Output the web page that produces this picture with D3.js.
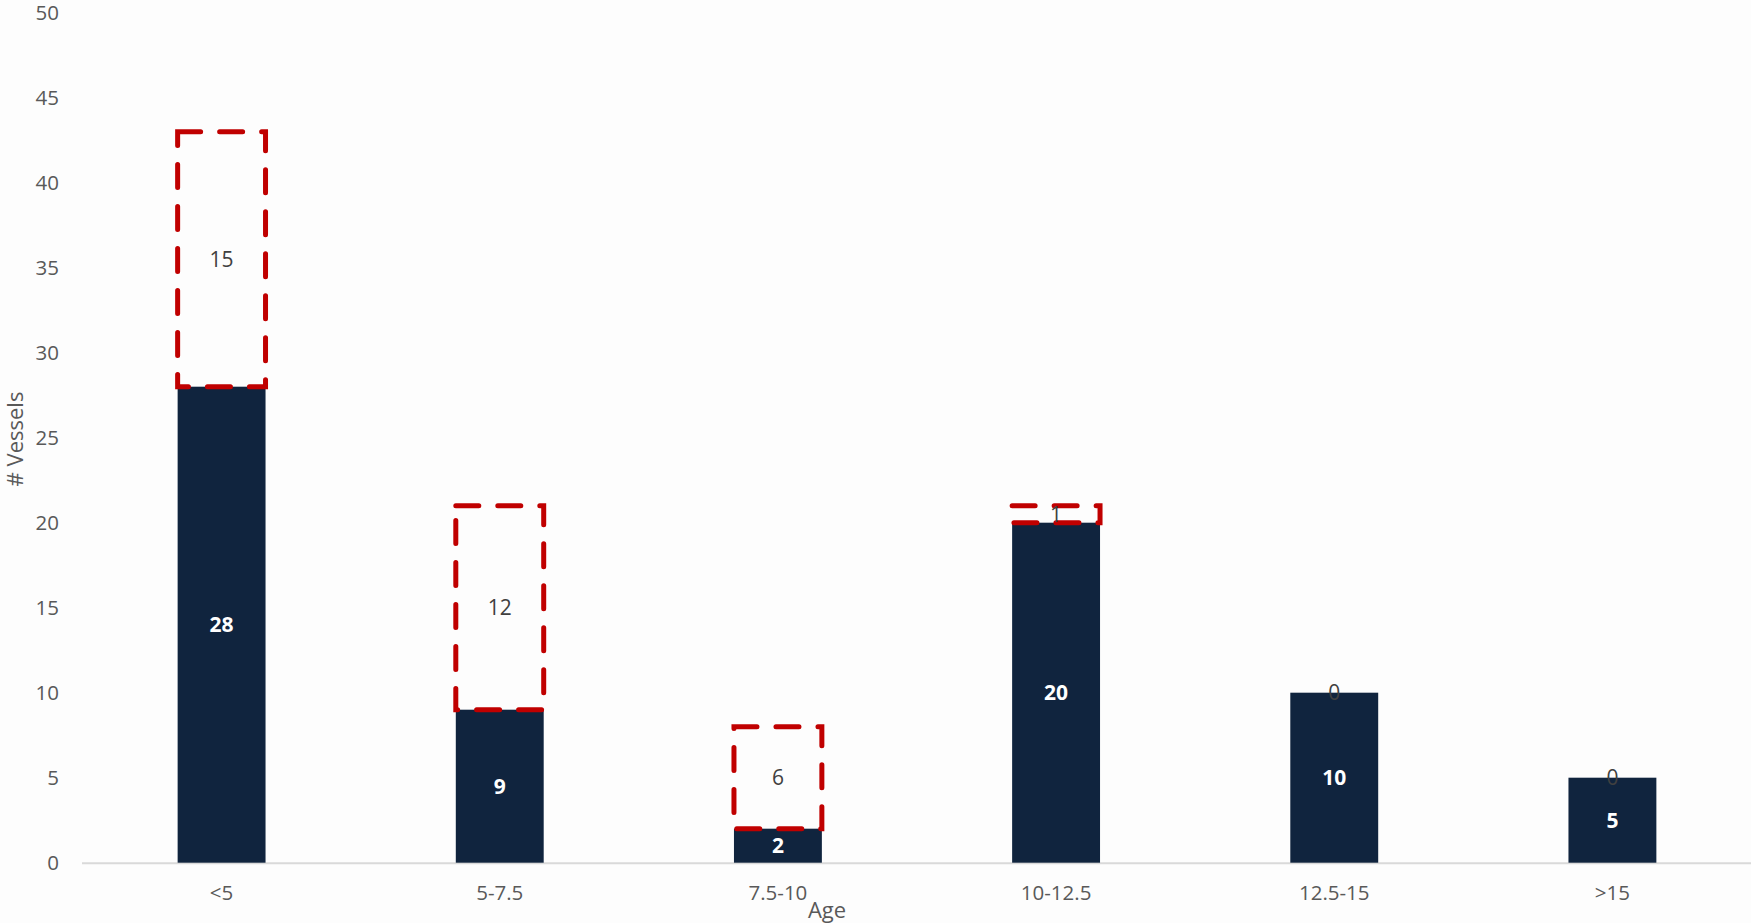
<!DOCTYPE html>
<html><head><meta charset="utf-8">
<script src="https://cdn.jsdelivr.net/npm/d3@7"></script>
<style>
html,body{margin:0;padding:0;background:#fdfdfd;}
svg{display:block;font-family:"Open Sans",sans-serif;}
</style></head>
<body>
<svg id="chart" width="1751" height="923"></svg>
<script>
const categories = ["<5", "5-7.5", "7.5-10", "10-12.5", "12.5-15", ">15"];
const baseValues = [28, 9, 2, 20, 10, 5];
const extraValues = [15, 12, 6, 1, 0, 0];
const yTicks = [0, 5, 10, 15, 20, 25, 30, 35, 40, 45, 50];

const svg = d3.select("#chart");
const x = d3.scaleBand().domain(categories).range([82, 1751]).padding(0);
const y = d3.scaleLinear().domain([0, 50]).range([862.7, 12.7]);
const barW = x.bandwidth() * 0.316;
const cx = c => x(c) + x.bandwidth() / 2 + 0.5;

// y tick labels
svg.append("g").selectAll("text").data(yTicks).join("text")
  .attr("x", 59).attr("y", d => y(d)).attr("dy", "0.35em")
  .attr("text-anchor", "end").attr("font-size", 20.5).attr("fill", "#595959")
  .text(d => d);

// axis line
svg.append("line").attr("x1", 82).attr("x2", 1751)
  .attr("y1", y(0) + 0.5).attr("y2", y(0) + 0.5)
  .attr("stroke", "#d9d9d9").attr("stroke-width", 2);

// bars
svg.append("g").selectAll("rect").data(categories).join("rect")
  .attr("x", c => cx(c) - barW / 2).attr("width", barW)
  .attr("y", (c, i) => y(baseValues[i]))
  .attr("height", (c, i) => y(0) - y(baseValues[i]))
  .attr("fill", "#10243e");

// dashed boxes
svg.append("g").selectAll("rect").data(categories.filter((c, i) => extraValues[i] > 0)).join("rect")
  .attr("x", c => cx(c) - barW / 2).attr("width", barW)
  .attr("y", c => { const i = categories.indexOf(c); return y(baseValues[i] + extraValues[i]); })
  .attr("height", c => { const i = categories.indexOf(c); return y(baseValues[i]) - y(baseValues[i] + extraValues[i]); })
  .attr("fill", "none").attr("stroke", "#c00000").attr("stroke-width", 5)
  .attr("stroke-dasharray", "23,19").attr("stroke-linecap", "round");

// base labels
svg.append("g").selectAll("text").data(categories).join("text")
  .attr("x", c => cx(c)).attr("y", (c, i) => y(baseValues[i] / 2)).attr("dy", "0.35em")
  .attr("text-anchor", "middle").attr("font-size", 21).attr("font-weight", "bold")
  .attr("fill", "#ffffff").text((c, i) => baseValues[i]);

// extra labels
svg.append("g").selectAll("text").data(categories).join("text")
  .attr("x", c => cx(c)).attr("y", (c, i) => y(baseValues[i] + extraValues[i] / 2)).attr("dy", "0.35em")
  .attr("text-anchor", "middle").attr("font-size", 21)
  .attr("fill", "#404040").text((c, i) => extraValues[i]);

// x category labels
svg.append("g").selectAll("text").data(categories).join("text")
  .attr("x", c => cx(c)).attr("y", 893).attr("dy", "0.35em")
  .attr("text-anchor", "middle").attr("font-size", 20.5).attr("fill", "#595959")
  .text(c => c);

// axis titles
svg.append("text").attr("x", 827).attr("y", 910).attr("dy", "0.35em")
  .attr("text-anchor", "middle").attr("font-size", 22).attr("fill", "#595959").text("Age");
svg.append("text").attr("transform", "translate(15,439) rotate(-90)").attr("dy", "0.35em")
  .attr("text-anchor", "middle").attr("font-size", 22).attr("fill", "#595959").text("# Vessels");
</script>
</body></html>
